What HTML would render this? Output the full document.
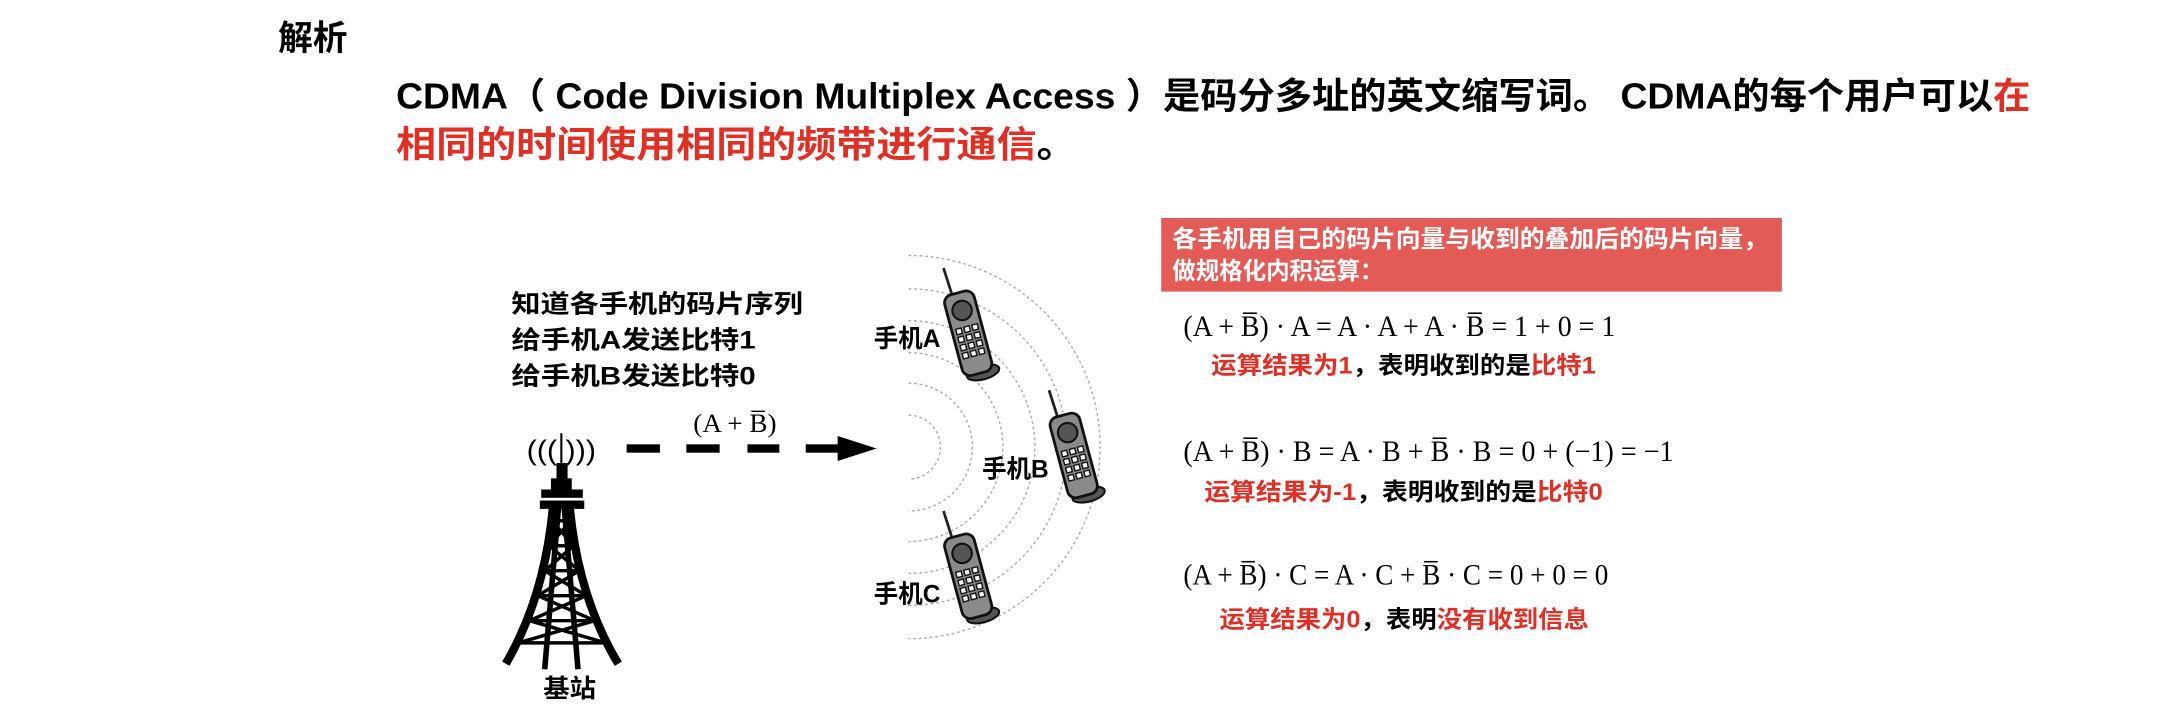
<!DOCTYPE html>
<html><head><meta charset="utf-8">
<style>
html,body{margin:0;padding:0;background:#fff;}
svg{display:block;}
text{font-family:"Liberation Sans","Noto Sans CJK SC",sans-serif;font-weight:bold;}
.m{font-family:"Liberation Serif","DejaVu Serif",serif;font-weight:normal;}
</style></head>
<body>
<svg width="2178" height="704" viewBox="0 0 1568 507" xmlns="http://www.w3.org/2000/svg">
<rect width="1568" height="507" fill="#fff"/>
<text x="200" y="36" font-size="25">解析</text>
<text x="285" y="78" font-size="26" textLength="1177" lengthAdjust="spacingAndGlyphs">CDMA（ Code Division Multiplex Access ）是码分多址的英文缩写词。 CDMA的每个用户可以<tspan fill="#e03025">在</tspan></text>
<text x="285" y="113" font-size="26" textLength="490" lengthAdjust="spacingAndGlyphs"><tspan fill="#e03025">相同的时间使用相同的频带进行通信</tspan>。</text>

<text x="368" y="225" font-size="18" textLength="210" lengthAdjust="spacingAndGlyphs">知道各手机的码片序列</text>
<text x="368" y="251" font-size="18" textLength="176" lengthAdjust="spacingAndGlyphs">给手机A发送比特1</text>
<text x="368" y="277" font-size="18" textLength="176" lengthAdjust="spacingAndGlyphs">给手机B发送比特0</text>

<!-- arrow -->
<g fill="#000">
<rect x="451" y="320" width="24" height="6"/>
<rect x="494" y="320" width="24" height="6"/>
<rect x="538" y="320" width="23" height="6"/>
<rect x="580" y="320" width="24" height="6"/>
<polygon points="603,314 631,323 603,332"/>
</g>
<text class="m" x="499" y="311" font-size="19" textLength="60" lengthAdjust="spacingAndGlyphs">(A + B̅)</text>

<!-- tower -->
<text x="379" y="331" font-size="20" style="font-weight:normal" textLength="50" lengthAdjust="spacingAndGlyphs">((( )))</text>
<line x1="404" y1="312" x2="404" y2="340" stroke="#000" stroke-width="1.5"/>
<g stroke="#000" fill="none">
<rect x="401" y="334" width="7" height="14" fill="#000"/>
<rect x="397" y="345" width="14" height="12" fill="#000"/>
<rect x="390" y="353" width="29" height="5" fill="#000"/>
<rect x="389" y="361" width="31" height="5" fill="#000"/>
<path d="M398 365 Q392 430 364 478" stroke-width="6"/>
<path d="M410 365 Q416 430 445 478" stroke-width="6"/>
<path d="M402 365 L392 482 M406 365 L416 482" stroke-width="4"/>
<g stroke-width="2.5">
<path d="M397 375 L411 375 M395 393 L413 393 M392 411 L417 411 M387 429 L422 429 M381 447 L428 447 M373 463 L436 463"/>
<path d="M397 375 L413 393 L392 411 L422 429 L381 447 L436 463 M411 375 L395 393 L417 411 L387 429 L428 447 L373 463"/>
</g>
</g>
<text x="391" y="502" font-size="18" textLength="38" lengthAdjust="spacingAndGlyphs">基站</text>

<!-- arcs -->
<g fill="none" stroke="#aaa" stroke-width="1" stroke-dasharray="2,2">
<path d="M654 299 A23 23 0 0 1 654 345"/>
<path d="M654 276 A46 46 0 0 1 654 368"/>
<path d="M654 254 A68 68 0 0 1 654 390"/>
<path d="M654 231 A91 91 0 0 1 654 413"/>
<path d="M654 208 A114 114 0 0 1 654 436"/>
<path d="M654 184 A138 138 0 0 1 654 460"/>
</g>

<!-- phones -->
<defs>
<g id="ph">
<line x1="-4" y1="-28" x2="-5" y2="-50" stroke="#222" stroke-width="2"/>
<ellipse cx="3" cy="30" rx="12" ry="5" fill="#555" stroke="#111" stroke-width="1.5"/>
<rect x="-11" y="-30" width="22" height="60" rx="6" fill="#8a8a8a" stroke="#111" stroke-width="2"/>
<circle cx="0" cy="-17" r="7" fill="#555" stroke="#111" stroke-width="1.5"/>
<g fill="#fff" stroke="#111" stroke-width="1">
<rect x="-8" y="-5" width="4" height="4"/><rect x="-2" y="-5" width="4" height="4"/><rect x="4" y="-5" width="4" height="4"/>
<rect x="-8" y="1" width="4" height="4"/><rect x="-2" y="1" width="4" height="4"/><rect x="4" y="1" width="4" height="4"/>
<rect x="-8" y="7" width="4" height="4"/><rect x="-2" y="7" width="4" height="4"/><rect x="4" y="7" width="4" height="4"/>
<rect x="-8" y="13" width="4" height="4"/><rect x="-2" y="13" width="4" height="4"/><rect x="4" y="13" width="4" height="4"/>
</g>
</g>
</defs>
<use href="#ph" transform="translate(697,240) rotate(-15)"/>
<use href="#ph" transform="translate(773,328) rotate(-15)"/>
<use href="#ph" transform="translate(697,415) rotate(-15)"/>
<text x="629" y="250" font-size="18" textLength="48" lengthAdjust="spacingAndGlyphs">手机A</text>
<text x="707" y="344" font-size="18" textLength="48" lengthAdjust="spacingAndGlyphs">手机B</text>
<text x="629" y="434" font-size="18" textLength="48" lengthAdjust="spacingAndGlyphs">手机C</text>

<!-- right panel -->
<rect x="836" y="157" width="447" height="53" fill="#e35b56"/>
<text x="844" y="178" font-size="17" fill="#fff" textLength="429" lengthAdjust="spacingAndGlyphs">各手机用自己的码片向量与收到的叠加后的码片向量，</text>
<text x="844" y="201" font-size="17" fill="#fff" textLength="152" lengthAdjust="spacingAndGlyphs">做规格化内积运算：</text>

<text class="m" x="852" y="242" font-size="21" textLength="311" lengthAdjust="spacingAndGlyphs">(A + B̅) · A = A · A + A · B̅ = 1 + 0 = 1</text>
<text x="872" y="269" font-size="17" textLength="277" lengthAdjust="spacingAndGlyphs"><tspan fill="#e03025">运算结果为1</tspan>，表明收到的是<tspan fill="#e03025">比特1</tspan></text>
<text class="m" x="852" y="332" font-size="21" textLength="353" lengthAdjust="spacingAndGlyphs">(A + B̅) · B = A · B + B̅ · B = 0 + (−1) = −1</text>
<text x="867" y="360" font-size="17" textLength="287" lengthAdjust="spacingAndGlyphs"><tspan fill="#e03025">运算结果为-1</tspan>，表明收到的是<tspan fill="#e03025">比特0</tspan></text>
<text class="m" x="852" y="421" font-size="21" textLength="306" lengthAdjust="spacingAndGlyphs">(A + B̅) · C = A · C + B̅ · C = 0 + 0 = 0</text>
<text x="878" y="452" font-size="17" textLength="266" lengthAdjust="spacingAndGlyphs"><tspan fill="#e03025">运算结果为0</tspan>，表明<tspan fill="#e03025">没有收到信息</tspan></text>
</svg>
</body></html>
